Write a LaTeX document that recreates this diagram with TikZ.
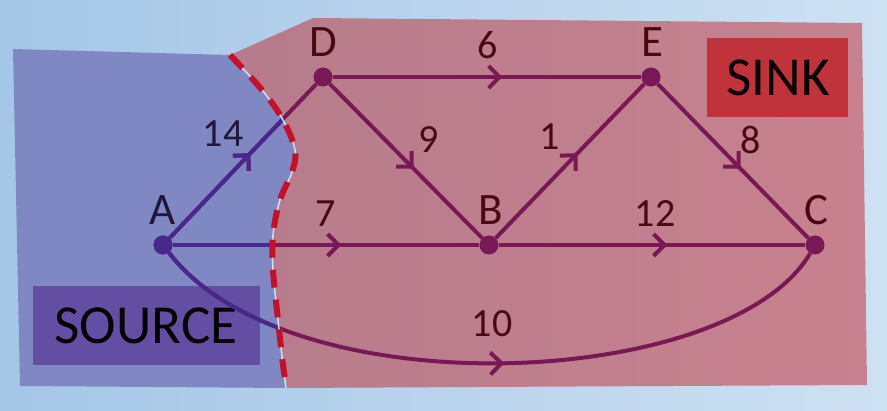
\documentclass[tikz,border=0pt]{standalone}
\usepackage{fontspec}
\setmainfont{Carlito}
\usetikzlibrary{arrows.meta,decorations.markings}
\definecolor{bgL}{HTML}{A4C6E7}
\definecolor{bgR}{HTML}{CEE1F3}
\definecolor{srcfill}{HTML}{8088C4}
\definecolor{snkL}{HTML}{B67C8C}
\definecolor{snkR}{HTML}{C8818E}
\definecolor{edgeR}{HTML}{781854}
\definecolor{edgeB}{HTML}{48288C}
\definecolor{cutred}{HTML}{C4102A}
\definecolor{labR}{HTML}{4A0812}
\definecolor{labB}{HTML}{22163A}
\definecolor{srcbox}{HTML}{634EA3}
\definecolor{snkbox}{HTML}{C1333B}
\begin{document}
\begin{tikzpicture}[x=1pt,y=-1pt,
  dot/.style={circle,fill=edgeR,inner sep=0pt,minimum size=19pt},
  vlabel/.style={anchor=base,text=labR,font=\fontsize{45}{45}\selectfont,inner sep=0pt},
  elabel/.style={anchor=base,text=labR,font=\fontsize{40}{40}\selectfont,inner sep=0pt},
  flow/.style={line width=4pt,draw=#1,postaction={decorate},
    decoration={markings,mark=at position 0.55 with {\arrow[#1,line width=4pt]{Straight Barb[length=11pt,width=22pt]}}}},
  boxlabel/.style={font=\fontsize{55}{55}\selectfont,text=black,inner sep=0pt}
]
\useasboundingbox (0,0) rectangle (887,411);
\shade[left color=bgL,right color=bgR] (0,0) rectangle (887,411);
% sink region
\shade[left color=snkL,right color=snkR] (230,55) -- (313,18) -- (862,23) -- (867,385) -- (286,388)
  -- plot[smooth,tension=0.6] coordinates {(286,388) (283,365) (278,320) (273,270) (273,235) (280,200) (292,172) (295,150) (283,120) (262,90) (230,55)} -- cycle;
% source region
\fill[srcfill] (13,49) -- plot[smooth,tension=0.6] coordinates {(230,55) (262,90) (283,120) (295,150) (292,172) (280,200) (273,235) (273,270) (278,320) (283,365) (286,388)} -- (20,386) -- cycle;
% boxes
\fill[srcbox] (33,286) rectangle (260,365);
\node[boxlabel] (src) at (146,326) {SOURCE};
\fill[snkbox] (707,38) rectangle (848,117);
\node[boxlabel] (snk) at (778,78) {SINK};
% nodes
\node[dot] (A) at (163,245) {};
\node[dot] (D) at (323,77) {};
\node[dot] (E) at (651,77) {};
\node[dot] (B) at (489,245) {};
\node[dot] (C) at (815,245) {};
% edges
\draw[flow=edgeR] (A) -- (D);
\draw[flow=edgeR] (A) -- (B);
\draw[flow=edgeR] (D) -- (E);
\draw[flow=edgeR] (D) -- (B);
\draw[flow=edgeR] (B) -- (E);
\draw[flow=edgeR] (E) -- (C);
\draw[flow=edgeR] (B) -- (C);
\draw[line width=4pt,draw=edgeR,postaction={decorate},
  decoration={markings,mark=at position 0.52 with {\arrow[edgeR,line width=4pt]{Straight Barb[length=11pt,width=22pt]}}}]
  (A) .. controls (290,410) and (730,390) .. (C);
% blue parts inside source region
\begin{scope}
\clip (13,49) -- plot[smooth,tension=0.6] coordinates {(230,55) (262,90) (283,120) (295,150) (292,172) (280,200) (273,235) (273,270) (278,320) (283,365) (286,388)} -- (20,386) -- cycle;
\draw[flow=edgeB] (A) -- (D);
\draw[flow=edgeB] (A) -- (B);
\draw[line width=4pt,draw=edgeB] (A) .. controls (290,410) and (730,390) .. (C);
\end{scope}
\node[dot,fill=edgeB] (A2) at (163,245) {};
% cut line
\draw[line width=1.5pt,draw=bgR] plot[smooth,tension=0.6] coordinates {(230,55) (262,90) (283,120) (295,150) (292,172) (280,200) (273,235) (273,270) (278,320) (283,365) (286,388)};
\draw[line width=6pt,draw=cutred,dash pattern=on 18pt off 12pt] plot[smooth,tension=0.6] coordinates {(230,55) (262,90) (283,120) (295,150) (292,172) (280,200) (273,235) (273,270) (278,320) (283,365) (285,378)};
% vertex labels
\node[vlabel,text=labB] (lA) at (163,225) {A};
\node[vlabel] (lD) at (323,57) {D};
\node[vlabel] (lE) at (652,57) {E};
\node[vlabel] (lB) at (491,225) {B};
\node[vlabel] (lC) at (816,225) {C};
% edge labels
\node[elabel,text=labB] (l14) at (223,147) {14};
\node[elabel] (l6) at (488,59) {6};
\node[elabel] (l9) at (429,153) {9};
\node[elabel] (l1) at (550,150) {1};
\node[elabel] (l8) at (751,154) {8};
\node[elabel] (l7) at (326,227) {7};
\node[elabel] (l12) at (655,227) {12};
\node[elabel] (l10) at (492,337) {10};
\end{tikzpicture}
\end{document}
